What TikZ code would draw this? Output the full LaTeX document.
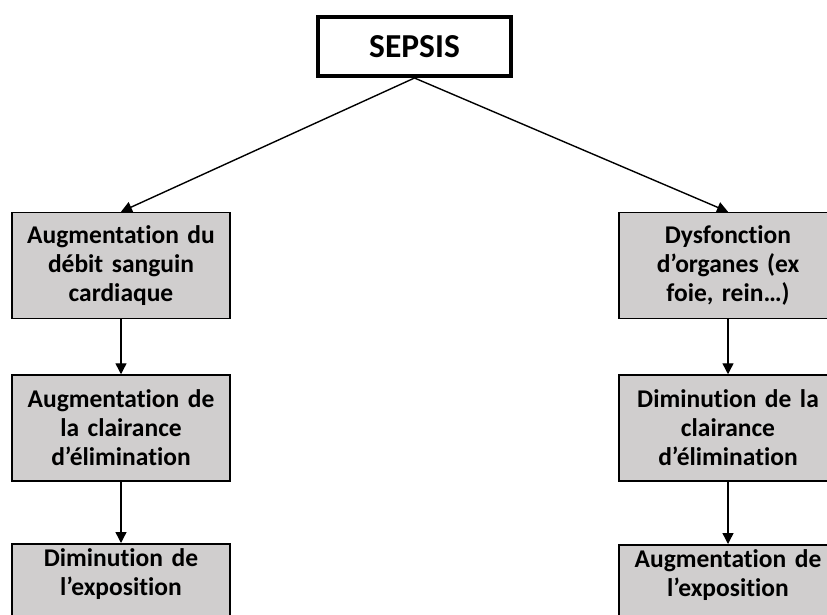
\documentclass[tikz,border=0pt]{standalone}
\usepackage{fontspec}
\setmainfont{Carlito}[RawFeature=-liga]
\usetikzlibrary{arrows.meta}
\usetikzlibrary{positioning}
\definecolor{boxgray}{RGB}{208,206,206}

\begin{document}
\begin{tikzpicture}[x=1pt,y=-1pt,->,>={Triangle[length=11pt,width=11pt]},line width=1.4pt,
  main node/.style={rectangle,fill=boxgray,draw,line width=1.5pt,minimum width=218pt,
    minimum height=106pt,text width=204pt,inner xsep=7pt,inner ysep=0pt,align=center,
    font=\bfseries\fontsize{25.5}{29}\selectfont},
  box text/.style={text width=204pt,inner sep=0pt,align=center,
    font=\bfseries\fontsize{25.5}{29}\selectfont},
  top node/.style={rectangle,fill=white,draw,line width=4pt,minimum width=193pt,
    minimum height=59pt,font=\bfseries\fontsize{33.5}{38}\selectfont}]

  \useasboundingbox (0,0) rectangle (827,614);
  \clip (0,0) rectangle (827,614);

  \node[top node] (S) at (414.5,46.5) {SEPSIS};

  % left column
  \node[main node] (L1) at (121,265.5) {Augmentation du\\débit sanguin\\cardiaque};
  \node[main node] (L2) at (121,428) {Augmentation de\\la clairance\\d’élimination};
  \node[main node,minimum height=120pt,anchor=north] (L3) at (121,543) {};
  \node[box text,below=5pt of L3.north] (L3t) {Diminution de\\l’exposition};

  % right column
  \node[main node] (R1) at (728,265.5) {Dysfonction\\d’organes (ex\\foie, rein…)};
  \node[main node] (R2) at (728,428) {Diminution de la\\clairance\\d’élimination};
  \node[main node,minimum height=120pt,anchor=north] (R3) at (728,544) {};
  \node[box text,below=5pt of R3.north] (R3t) {Augmentation de\\l’exposition};

  \path
    (S.south) edge (L1.north)
    (S.south) edge (R1.north)
    (L1) edge (L2)
    (L2) edge (L3)
    (R1) edge (R2)
    (R2) edge (R3)
    ;
\end{tikzpicture}
\end{document}
